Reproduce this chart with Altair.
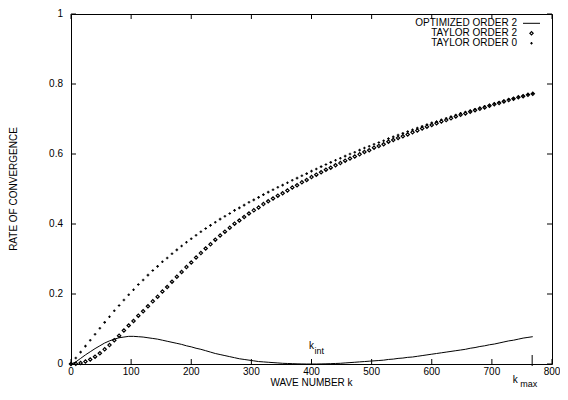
import altair as alt
import pandas as pd

# ---- data ----
K = list(range(0, 769, 8))  # wave numbers sampled (0 .. ~k_max)

T0 = [0.000, 0.017, 0.034, 0.051, 0.068, 0.085, 0.102, 0.119, 0.135, 0.152,
      0.167, 0.183, 0.198, 0.212, 0.227, 0.240, 0.254, 0.267, 0.279, 0.292,
      0.303, 0.315, 0.326, 0.337, 0.348, 0.358, 0.368, 0.378, 0.387, 0.396,
      0.405, 0.414, 0.422, 0.430, 0.439, 0.446, 0.454, 0.462, 0.469, 0.476,
      0.484, 0.491, 0.498, 0.505, 0.511, 0.518, 0.525, 0.531, 0.538, 0.544,
      0.551, 0.557, 0.564, 0.570, 0.576, 0.582, 0.588, 0.594, 0.600, 0.605,
      0.611, 0.617, 0.622, 0.628, 0.633, 0.638, 0.644, 0.649, 0.654, 0.659,
      0.664, 0.669, 0.674, 0.679, 0.684, 0.689, 0.693, 0.698, 0.702, 0.707,
      0.711, 0.716, 0.720, 0.724, 0.728, 0.732, 0.736, 0.740, 0.744, 0.748,
      0.752, 0.756, 0.759, 0.763, 0.766, 0.770, 0.773]

T2 = [0.000, 0.001, 0.003, 0.007, 0.013, 0.021, 0.031, 0.042, 0.054, 0.068,
      0.081, 0.096, 0.110, 0.123, 0.138, 0.151, 0.165, 0.179, 0.192, 0.207,
      0.220, 0.235, 0.249, 0.263, 0.277, 0.290, 0.304, 0.317, 0.330, 0.342,
      0.355, 0.367, 0.378, 0.389, 0.401, 0.410, 0.420, 0.430, 0.439, 0.447,
      0.457, 0.465, 0.473, 0.481, 0.488, 0.496, 0.504, 0.511, 0.519, 0.526,
      0.534, 0.541, 0.548, 0.555, 0.561, 0.568, 0.574, 0.581, 0.587, 0.593,
      0.599, 0.606, 0.611, 0.618, 0.623, 0.628, 0.635, 0.640, 0.646, 0.651,
      0.656, 0.662, 0.667, 0.673, 0.678, 0.683, 0.688, 0.693, 0.697, 0.702,
      0.707, 0.712, 0.716, 0.721, 0.725, 0.729, 0.733, 0.738, 0.742, 0.746,
      0.750, 0.754, 0.758, 0.762, 0.765, 0.769, 0.772]

OPT = [0.000, 0.006, 0.016, 0.026, 0.035, 0.044, 0.052, 0.060, 0.066, 0.071,
       0.075, 0.077, 0.079, 0.079, 0.078, 0.077, 0.075, 0.073, 0.071, 0.068,
       0.065, 0.062, 0.059, 0.056, 0.052, 0.049, 0.045, 0.042, 0.038, 0.034,
       0.030, 0.027, 0.024, 0.021, 0.018, 0.015, 0.013, 0.011, 0.009, 0.007,
       0.006, 0.005, 0.004, 0.003, 0.002, 0.0015, 0.001, 0.0005, 0.0002, 0.0,
       0.0, 0.0, 0.0003, 0.0006, 0.001, 0.0015, 0.002, 0.003, 0.004, 0.005,
       0.006, 0.007, 0.008, 0.009, 0.010, 0.011, 0.013, 0.014, 0.016, 0.017,
       0.019, 0.020, 0.022, 0.024, 0.026, 0.028, 0.030, 0.032, 0.034, 0.036,
       0.038, 0.040, 0.042, 0.045, 0.047, 0.050, 0.052, 0.055, 0.057, 0.060,
       0.063, 0.066, 0.068, 0.071, 0.074, 0.076, 0.078]

X_TICKS = [0, 100, 200, 300, 400, 500, 600, 700, 800]
X_LABELS = ["0", "100", "200", "300", "400", "500", "600", "700", "800"]
Y_TICKS = [0, 0.2, 0.4, 0.6, 0.8, 1.0]
Y_LABELS = ["0", "0.2", "0.4", "0.6", "0.8", "1"]
K_INT = 400
K_MAX = 767
LEGEND = ["OPTIMIZED ORDER 2", "TAYLOR ORDER 2", "TAYLOR ORDER 0"]
X_TITLE = "WAVE NUMBER  k"
Y_TITLE = "RATE OF CONVERGENCE"

# ---- chart ----
W, H = 481, 350
FONT = "Liberation Sans"
INK = "black"

df = pd.DataFrame({"k": K, "t0": T0, "t2": T2, "opt": OPT})
xs = alt.Scale(domain=[0, 800], nice=False, zero=False)
ys = alt.Scale(domain=[0, 1], nice=False)

base = alt.Chart(df)
xk = alt.X("k:Q", scale=xs, axis=None)
opt_line = base.mark_line(color=INK, strokeWidth=1).encode(
    x=xk, y=alt.Y("opt:Q", scale=ys, axis=None))
t2_pts = base.mark_point(shape="diamond", size=11, filled=False, color=INK,
                         strokeWidth=1.2, opacity=1).encode(
    x=xk, y=alt.Y("t2:Q", scale=ys, axis=None))
t0_pts = base.mark_point(shape="cross", size=7, filled=True, color=INK,
                         opacity=1).encode(
    x=xk, y=alt.Y("t0:Q", scale=ys, axis=None))

xt = alt.Chart(pd.DataFrame({"v": X_TICKS, "lab": X_LABELS}))
yt = alt.Chart(pd.DataFrame({"v": Y_TICKS, "lab": Y_LABELS}))
xv = alt.X("v:Q", scale=xs, axis=None)
yv = alt.Y("v:Q", scale=ys, axis=None)

tick_b = xt.mark_rule(color=INK, strokeWidth=1).encode(x=xv, y=alt.value(H), y2=alt.value(H - 5))
tick_t = xt.mark_rule(color=INK, strokeWidth=1).encode(x=xv, y=alt.value(0), y2=alt.value(5))
tick_l = yt.mark_rule(color=INK, strokeWidth=1).encode(y=yv, x=alt.value(0), x2=alt.value(5))
tick_r = yt.mark_rule(color=INK, strokeWidth=1).encode(y=yv, x=alt.value(W), x2=alt.value(W - 5))

lab_x = xt.mark_text(font=FONT, fontSize=10, color=INK, fill=INK, align="center",
                     baseline="middle").encode(x=xv, y=alt.value(H + 8), text="lab:N")
lab_y = yt.mark_text(font=FONT, fontSize=10, color=INK, fill=INK, align="right",
                     baseline="middle").encode(y=yv, x=alt.value(-8), text="lab:N")

one = alt.Chart(pd.DataFrame({"d": [0]}))
title_x = one.mark_text(text=X_TITLE, font=FONT, fontSize=10, color=INK, fill=INK,
                        align="center", baseline="middle").encode(
    x=alt.value(W / 2), y=alt.value(H + 18.5))
title_y = one.mark_text(text=Y_TITLE, font=FONT, fontSize=10, color=INK, fill=INK,
                        align="center", baseline="middle", angle=270).encode(
    x=alt.value(-57), y=alt.value(H / 2))

kmax_c = alt.Chart(pd.DataFrame({"v": [K_MAX]}))
kint_c = alt.Chart(pd.DataFrame({"v": [K_INT]}))
tick_kmax = kmax_c.mark_rule(color=INK, strokeWidth=1).encode(
    x=xv, y=alt.value(H - 9), y2=alt.value(H + 2))

kint_k = kint_c.mark_text(text="k", font=FONT, fontSize=10, color=INK, fill=INK,
                          align="center", baseline="middle").encode(x=xv, y=alt.value(H - 18))
kint_s = kint_c.mark_text(text="int", font=FONT, fontSize=9, color=INK, fill=INK,
                          align="left", baseline="middle", dx=3).encode(x=xv, y=alt.value(H - 13))
kmax_k = kmax_c.mark_text(text="k", font=FONT, fontSize=10, color=INK, fill=INK,
                          align="center", baseline="middle", dx=-17).encode(x=xv, y=alt.value(H + 16))
kmax_s = kmax_c.mark_text(text="max", font=FONT, fontSize=9, color=INK, fill=INK,
                          align="left", baseline="middle", dx=-12).encode(x=xv, y=alt.value(H + 19.5))

LEG_Y = [9.3, 19.3, 29.3]
leg_texts = [
    one.mark_text(text=LEGEND[i], font=FONT, fontSize=10, color=INK, fill=INK,
                  align="right", baseline="middle").encode(x=alt.value(W - 35), y=alt.value(LEG_Y[i]))
    for i in range(3)
]
leg_line = one.mark_rule(color=INK, strokeWidth=1).encode(
    x=alt.value(W - 29), x2=alt.value(W - 12), y=alt.value(LEG_Y[0]))
leg_t2 = one.mark_point(shape="diamond", size=11, filled=False, color=INK,
                        strokeWidth=1.2, opacity=1).encode(x=alt.value(W - 20.5), y=alt.value(LEG_Y[1]))
leg_t0 = one.mark_point(shape="cross", size=7, filled=True, color=INK,
                        opacity=1).encode(x=alt.value(W - 20.5), y=alt.value(LEG_Y[2]))

chart = alt.layer(
    opt_line, t2_pts, t0_pts, tick_b, tick_t, tick_l, tick_r, tick_kmax,
    lab_x, lab_y, title_x, title_y,
    kint_k, kint_s, kmax_k, kmax_s, *leg_texts, leg_line, leg_t2, leg_t0,
).properties(
    width=W, height=H,
    autosize=alt.AutoSizeParams(type="none"),
    padding={"left": 63, "top": 6, "right": 8, "bottom": 23},
    background="white",
).configure_view(stroke=INK, strokeWidth=1)

chart.save("out.html", embed_options={"renderer": "svg", "actions": False})
